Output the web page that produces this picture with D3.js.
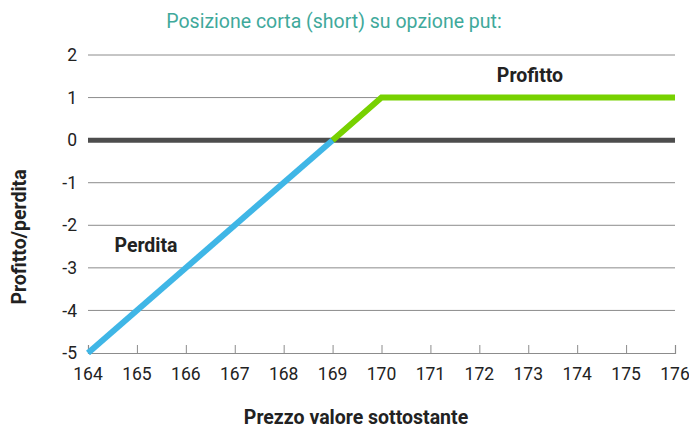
<!DOCTYPE html>
<html><head><meta charset="utf-8">
<script src="https://cdn.jsdelivr.net/npm/d3@7"></script>
<style>body{margin:0;background:#fff;}svg{display:block;font-family:Roboto,"DejaVu Sans",sans-serif;}</style>
</head><body>
<svg id="c" width="689" height="428"></svg>
<script>
const xTicks = [164,165,166,167,168,169,170,171,172,173,174,175,176];
const yTicks = [-5,-4,-3,-2,-1,0,1,2];
const lossX = [164, 169];
const lossY = [-5, 0];
const profitX = [169, 170, 176];
const profitY = [0, 1, 1];
const title = "Posizione corta (short) su opzione put:";
const xTitle = "Prezzo valore sottostante";
const yTitle = "Profitto/perdita";

const svg = d3.select("#c");
const x = d3.scaleLinear().domain([164,176]).range([88,675]);
const y = d3.scaleLinear().domain([-5,2]).range([353,55]);

// gridlines
svg.append("g").selectAll("line").data(yTicks.filter(d=>d!==0 && d!==-5)).join("line")
  .attr("x1",x(164)).attr("x2",x(176)).attr("y1",d=>y(d)).attr("y2",d=>y(d))
  .attr("stroke","#8c8c8c").attr("stroke-width",1);

// x axis
const xa = svg.append("g").attr("transform",`translate(0,${y(-5)})`)
  .call(d3.axisTop(x).tickValues(xTicks).tickSize(8).tickFormat(""));
xa.select(".domain").attr("stroke","#8c8c8c").attr("stroke-width",1.2);
xa.selectAll(".tick line").attr("stroke","#8c8c8c");
svg.append("g").selectAll("text").data(xTicks).join("text")
  .attr("x",d=>x(d)).attr("y",y(-5)+27).attr("text-anchor","middle")
  .attr("font-size",17.5).attr("fill","#222").text(d=>d);

// y labels
svg.append("g").selectAll("text").data(yTicks).join("text")
  .attr("x",77).attr("y",d=>y(d)).attr("dy","0.35em").attr("text-anchor","end")
  .attr("font-size",17.5).attr("fill","#222").text(d=>d);

// zero line
svg.append("line").attr("x1",x(164)).attr("x2",x(176)).attr("y1",y(0)).attr("y2",y(0))
  .attr("stroke","#4d4d4d").attr("stroke-width",5);

const line = d3.line().x(d=>x(d[0])).y(d=>y(d[1]));
svg.append("path").datum(lossX.map((v,i)=>[v,lossY[i]])).attr("d",line)
  .attr("fill","none").attr("stroke","#3fb6e6").attr("stroke-width",6);
svg.append("path").datum(profitX.map((v,i)=>[v,profitY[i]])).attr("d",line)
  .attr("fill","none").attr("stroke","#77d100").attr("stroke-width",6);

// labels
svg.append("text").attr("x",530).attr("y",82).attr("text-anchor","middle")
  .attr("font-size",19.5).attr("font-weight","bold").attr("fill","#222").text("Profitto");
svg.append("text").attr("x",146).attr("y",252).attr("text-anchor","middle")
  .attr("font-size",19.5).attr("font-weight","bold").attr("fill","#222").text("Perdita");

svg.append("text").attr("x",334).attr("y",28).attr("text-anchor","middle")
  .attr("font-size",19.5).attr("fill","#3fa99b").text(title);
svg.append("text").attr("x",356).attr("y",424).attr("text-anchor","middle")
  .attr("font-size",19.5).attr("font-weight","bold").attr("fill","#222").text(xTitle);
svg.append("text").attr("transform","translate(26,237) rotate(-90)").attr("text-anchor","middle")
  .attr("font-size",19.5).attr("font-weight","bold").attr("fill","#222").text(yTitle);
</script>
</body></html>
